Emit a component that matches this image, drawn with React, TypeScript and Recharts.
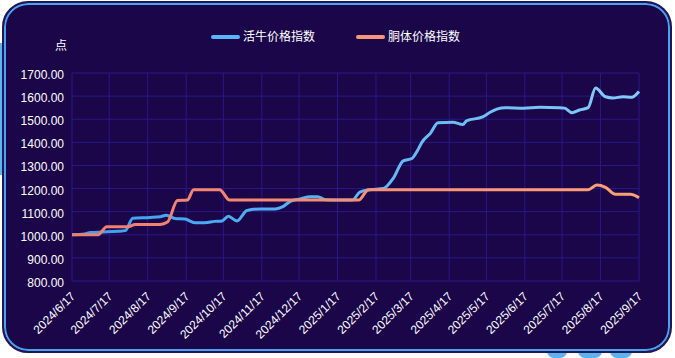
import { LineChart, Line, XAxis, YAxis, CartesianGrid } from "recharts";

// month ticks on the x axis
const tickLabels = [
  "2024/6/17", "2024/7/17", "2024/8/17", "2024/9/17", "2024/10/17", "2024/11/17",
  "2024/12/17", "2025/1/17", "2025/2/17", "2025/3/17", "2025/4/17", "2025/5/17",
  "2025/6/17", "2025/7/17", "2025/8/17", "2025/9/17",
];
const yTicks = [800, 900, 1000, 1100, 1200, 1300, 1400, 1500, 1600, 1700];

// 活牛价格指数
const liveDates = [
  "2024-06-17", "2024-06-27", "2024-07-02", "2024-07-12", "2024-07-24", "2024-07-30",
  "2024-08-05", "2024-08-19", "2024-08-27", "2024-09-01", "2024-09-08", "2024-09-16",
  "2024-09-24", "2024-10-02", "2024-10-10", "2024-10-16", "2024-10-21", "2024-10-28",
  "2024-11-05", "2024-11-16", "2024-11-28", "2024-12-04", "2024-12-10", "2024-12-18",
  "2024-12-26", "2025-01-01", "2025-01-07", "2025-01-19", "2025-01-29", "2025-02-04",
  "2025-02-12", "2025-02-23", "2025-03-03", "2025-03-11", "2025-03-18", "2025-03-22",
  "2025-03-26", "2025-04-02", "2025-04-08", "2025-04-20", "2025-04-28", "2025-05-01",
  "2025-05-14", "2025-05-20", "2025-05-26", "2025-06-01", "2025-06-16", "2025-06-29",
  "2025-07-15", "2025-07-19", "2025-07-25", "2025-07-31", "2025-08-07", "2025-08-13",
  "2025-08-21", "2025-08-27", "2025-09-04", "2025-09-11", "2025-09-17",
];
const liveIndex = [
  1000, 1003, 1010, 1012, 1015, 1018,
  1072, 1075, 1078, 1085, 1070, 1068,
  1052, 1052, 1058, 1060, 1080, 1060,
  1105, 1112, 1112, 1122, 1145, 1155,
  1165, 1165, 1152, 1150, 1150, 1185,
  1195, 1200, 1245, 1320, 1330, 1360,
  1400, 1440, 1485, 1487, 1477, 1493,
  1510, 1530, 1545, 1550, 1548, 1552,
  1550, 1548, 1528, 1540, 1550, 1635,
  1597, 1592, 1597, 1595, 1620,
];

// 胴体价格指数
const carcassDates = [
  "2024-06-17", "2024-07-08", "2024-07-15", "2024-08-01", "2024-08-07", "2024-08-27",
  "2024-09-02", "2024-09-10", "2024-09-18", "2024-09-23", "2024-10-14", "2024-10-22",
  "2024-12-14", "2025-02-03", "2025-02-11", "2025-05-13", "2025-08-07", "2025-08-14",
  "2025-08-21", "2025-08-29", "2025-09-10", "2025-09-17",
];
const carcassIndex = [
  1000, 1000, 1035, 1035, 1045, 1045,
  1055, 1148, 1150, 1195, 1195, 1150,
  1150, 1150, 1195, 1195, 1195, 1215,
  1205, 1175, 1175, 1160,
];

const START = Date.UTC(2024, 5, 17);
const toDay = (s: string) => {
  const [y, m, d] = s.split(/[-/]/).map(Number);
  return Math.round((Date.UTC(y, m - 1, d) - START) / 86400000);
};

const liveData = liveDates.map((d, i) => ({ day: toDay(d), value: liveIndex[i] }));
const carcassData = carcassDates.map((d, i) => ({ day: toDay(d), value: carcassIndex[i] }));
const xTicks = tickLabels.map(toDay);
const labelOf = new Map(xTicks.map((d, i) => [d, tickLabels[i]]));

const FONT = "'Liberation Sans', 'Noto Sans CJK SC', sans-serif";
const BG = "#1a0648";
const GRID = "#2a1888";

const XTick = (props: any) => {
  const { x, payload } = props;
  const ax = x + 4;
  const ay = 297;
  return (
    <text
      x={ax}
      y={ay}
      fill="#ffffff"
      fontSize={12}
      fontFamily={FONT}
      textAnchor="end"
      transform={`rotate(-45, ${ax}, ${ay})`}
    >
      {labelOf.get(payload.value)}
    </text>
  );
};

const YTick = (props: any) => {
  const { y, payload } = props;
  return (
    <text x={64} y={y} dy="0.5em" fill="#ffffff" fontSize={12} fontFamily={FONT} textAnchor="end">
      {Number(payload.value).toFixed(2)}
    </text>
  );
};

const legendLine = (color: string) => ({
  position: "absolute" as const,
  width: 29,
  height: 4,
  borderRadius: 2,
  background: color,
  top: 35,
});

export default function App() {
  return (
    <div style={{ position: "absolute", left: 0, top: 0, width: 675, height: 358, background: "#ffffff", overflow: "hidden" }}>
      {/* decorations peeking out behind the card */}
      <div style={{ position: "absolute", left: -4, top: 43, width: 9, height: 132, borderRadius: 6, background: "#5ab4f0" }} />
      <div style={{ position: "absolute", left: 547, top: 340, width: 20, height: 18, borderRadius: 7, background: "#5ab4f0" }} />
      <div style={{ position: "absolute", left: 578, top: 340, width: 24, height: 18, borderRadius: 7, background: "#5ab4f0" }} />
      <div style={{ position: "absolute", left: 610, top: 340, width: 22, height: 18, borderRadius: 7, background: "#5ab4f0" }} />

      <div
        style={{
          position: "absolute",
          left: 2,
          top: 1,
          width: 666,
          height: 348,
          borderRadius: 26,
          background: BG,
          border: "2px solid #221658",
          boxShadow: "inset 0 0 0 2px #4aa3ec",
        }}
      />

      <div style={{ position: "absolute", left: 0, top: 0 }}>
        <LineChart width={675} height={358} margin={{ top: 73, right: 36, left: 0, bottom: 0 }}>
          <defs>
            <linearGradient id="liveGrad" x1="0" y1="0" x2="1" y2="0">
              <stop offset="0%" stopColor="#3a9ff0" />
              <stop offset="100%" stopColor="#86cbf8" />
            </linearGradient>
            <linearGradient id="carcassGrad" x1="0" y1="0" x2="1" y2="0">
              <stop offset="0%" stopColor="#f07d70" />
              <stop offset="100%" stopColor="#ffa176" />
            </linearGradient>
          </defs>
          <CartesianGrid stroke={GRID} strokeWidth={1} />
          <XAxis
            type="number"
            dataKey="day"
            domain={[0, 457]}
            ticks={xTicks}
            interval={0}
            tickLine={false}
            axisLine={false}
            height={77}
            tick={<XTick />}
          />
          <YAxis
            type="number"
            domain={[800, 1700]}
            ticks={yTicks}
            interval={0}
            tickLine={false}
            axisLine={false}
            width={72}
            tick={<YTick />}
          />
          <Line
            data={liveData}
            dataKey="value"
            type="monotone"
            stroke="url(#liveGrad)"
            strokeWidth={3}
            dot={false}
            isAnimationActive={false}
          />
          <Line
            data={carcassData}
            dataKey="value"
            type="monotone"
            stroke="url(#carcassGrad)"
            strokeWidth={3}
            dot={false}
            isAnimationActive={false}
          />
        </LineChart>
      </div>

      {/* legend */}
      <div style={{ ...legendLine("#58b6f6"), left: 211 }} />
      <div style={{ position: "absolute", left: 243, top: 29, fontSize: 12, lineHeight: "16px", color: "#ffffff", fontFamily: FONT }}>
        活牛价格指数
      </div>
      <div style={{ ...legendLine("#f7957a"), left: 356 }} />
      <div style={{ position: "absolute", left: 388, top: 29, fontSize: 12, lineHeight: "16px", color: "#ffffff", fontFamily: FONT }}>
        胴体价格指数
      </div>
      <div style={{ position: "absolute", left: 55, top: 38, fontSize: 12, lineHeight: "16px", color: "#ffffff", fontFamily: FONT }}>
        点
      </div>
    </div>
  );
}
